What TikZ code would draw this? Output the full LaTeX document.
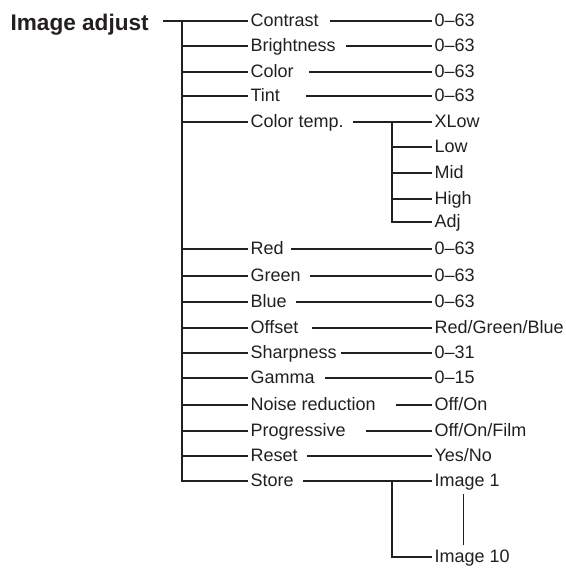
\documentclass[tikz,border=0pt]{standalone}
\usepackage{fontspec}
\setmainfont{Liberation Sans}
\definecolor{ink}{RGB}{35,31,32}

\begin{document}
\begin{tikzpicture}[x=.5pt,y=-.5pt, line width=.6pt, draw=ink, text=ink,
 it/.style={anchor=west,inner sep=1pt,text height=6.5pt,text depth=1pt,font=\fontsize{9}{10}\selectfont},
 hd/.style={anchor=west,inner sep=1pt,text height=9pt,text depth=0pt,font=\fontsize{11.3}{13}\selectfont\bfseries}]
\useasboundingbox (0,0) rectangle (566,568);
\node[hd] (title) at (8,21) {Image adjust};
\coordinate (tr) at (182,21);
\foreach \n/\y/\txt/\val/\g in {1/21/Contrast/0--63/9, 2/46/Brightness/0--63/8, 3/72/Color/0--63/13,
 4/96/Tint/0--63/23, 5/122/Color temp./XLow/7, 6/249/Red/0--63/5, 7/276/Green/0--63/7,
 8/302/Blue/0--63/7, 9/328/Offset/{Red/Green/Blue}/11, 10/353/Sharpness/0--31/2,
 11/378/Gamma/0--15/8, 12/405/Noise reduction/{Off/On}/18, 13/431/Progressive/{Off/On/Film}/18,
 14/456/Reset/{Yes/No}/7, 15/481/Store/Image 1/7}{
 \node[it] (item-\n) at (248,\y) {\txt};
 \node[it] (val-\n) at (432,\y) {\val};
 \draw ([xshift=\g*.5pt]item-\n.east) -- (val-\n.west);
}
\draw ([xshift=6pt]title.east) -- (item-1.west);
\draw (tr) |- (item-15.west);
\foreach \n in {2,...,14} \draw (tr |- item-\n.west) -- (item-\n.west);
\foreach \n/\y/\txt in {1/147/Low, 2/173/Mid, 3/199/High, 4/222/Adj}
 \node[it] (sub-\n) at (432,\y) {\txt};
\coordinate (ct) at (392,0);
\draw (ct |- val-5.west) |- (sub-4.west);
\foreach \n in {1,2,3} \draw (ct |- sub-\n.west) -- (sub-\n.west);
\node[it] (img-10) at (432,557) {Image 10};
\draw (ct |- val-15.west) |- (img-10.west);
\draw ([xshift=-2pt,yshift=-1.5pt]val-15.south) -- ([xshift=-2pt,yshift=1pt]val-15.south |- img-10.north);
\end{tikzpicture}
\end{document}
